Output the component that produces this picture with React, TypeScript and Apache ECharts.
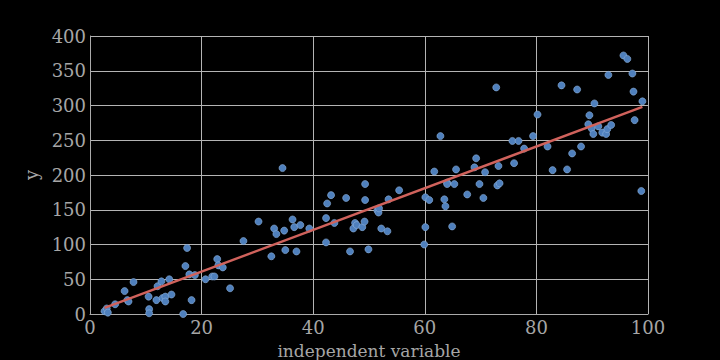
import React, { useEffect, useRef } from "react";
import * as echarts from "echarts";

const xValues = [
  2.6, 3.0, 3.2, 4.5, 6.2, 6.7, 6.9, 7.8, 10.5, 10.6, 10.6, 11.9, 12.1, 12.8, 13.0, 13.5, 13.5, 14.2, 14.6,
  16.7, 17.1, 17.4, 17.8, 18.2, 18.8, 20.7, 21.9, 22.3, 22.8, 23.0, 23.8, 25.1, 27.5, 30.2, 32.5, 33.0, 33.4,
  34.5, 34.8, 35.0, 36.3, 36.6, 37.0, 37.7, 39.3, 42.3, 42.3, 42.5, 43.2, 43.8, 45.9, 46.6, 47.2, 47.5, 47.8,
  48.8, 49.2, 49.3, 49.3, 49.9, 51.5, 51.7, 51.8, 52.2, 53.3, 53.5, 55.4, 59.9, 60.1, 60.1, 60.8, 61.7, 62.8,
  63.5, 63.7, 64.0, 64.0, 64.9, 65.3, 65.6, 67.6, 68.9, 69.2, 69.8, 70.5, 70.8, 72.8, 73.0, 73.4, 73.2, 75.7,
  76.0, 76.8, 77.8, 79.4, 80.2, 82.0, 82.9, 84.5, 85.5, 86.4, 87.3, 88.0, 89.3, 89.5, 89.9, 90.2, 90.4, 91.1,
  91.8, 92.5, 92.7, 92.9, 93.4, 95.6, 96.3, 97.2, 97.4, 97.6, 98.8, 99.0,
];
const yValues = [
  4, 8, 2, 14, 33, 20, 18, 46, 25, 7, 1, 20, 40, 47, 23, 25, 18, 50, 28,
  0, 69, 95, 57, 20, 56, 50, 54, 54, 79, 70, 67, 37, 105, 133, 83, 123, 115,
  210, 120, 92, 136, 125, 90, 128, 123, 138, 103, 159, 171, 131, 167, 90, 123, 131, 128,
  125, 133, 187, 164, 93, 149, 146, 152, 123, 119, 165, 178, 100, 125, 168, 164, 205, 256,
  165, 155, 189, 187, 126, 187, 208, 172, 211, 224, 187, 167, 204, 326, 185, 188, 213, 249,
  217, 249, 238, 256, 287, 241, 207, 329, 208, 231, 323, 241, 273, 286, 267, 259, 303, 270,
  261, 259, 266, 344, 272, 372, 367, 346, 320, 279, 177, 306,
];
const fitX = [2.6, 99.0];
const fitY = [8.8, 298];

export default function App() {
  const ref = useRef<HTMLDivElement>(null);
  useEffect(() => {
    if (!ref.current) return;
    const chart = echarts.init(ref.current, undefined, { renderer: "svg" });
    const font = "DejaVu Serif";
    const txt = "#a6a6a6";
    chart.setOption({
      animation: false,
      backgroundColor: "#000000",
      textStyle: { fontFamily: font },
      grid: { left: 90, right: 72, top: 36, bottom: 46, containLabel: false, outerBoundsMode: "none" },
      xAxis: {
        type: "value",
        min: 0,
        max: 100,
        interval: 20,
        name: "independent variable",
        nameLocation: "middle",
        nameGap: 28,
        nameTextStyle: { color: txt, fontFamily: font, fontSize: 17 },
        axisLine: { show: true, lineStyle: { color: "#aaaaaa", width: 1 } },
        axisTick: { show: false },
        axisLabel: { color: txt, fontFamily: font, fontSize: 18, margin: 4 },
        splitLine: { show: true, lineStyle: { color: "#b4b4b4", width: 1 } },
      },
      yAxis: {
        type: "value",
        min: 0,
        max: 400,
        interval: 50,
        name: "y",
        nameLocation: "middle",
        nameGap: 40,
        nameRotate: 90,
        nameTextStyle: { color: txt, fontFamily: font, fontSize: 18 },
        axisLine: { show: true, lineStyle: { color: "#aaaaaa", width: 1 } },
        axisTick: { show: false },
        axisLabel: { color: txt, fontFamily: font, fontSize: 18, margin: 4 },
        splitLine: { show: true, lineStyle: { color: "#b4b4b4", width: 1 } },
      },
      series: [
        {
          type: "scatter",
          data: xValues.map((x, i) => [x, yValues[i]]),
          symbolSize: 7,
          itemStyle: { color: "#4f80bd", borderColor: "#8fb1dc", borderWidth: 0.6, opacity: 1 },
          z: 2,
        },
        {
          type: "line",
          data: fitX.map((x, i) => [x, fitY[i]]),
          symbol: "none",
          lineStyle: { color: "#d0625c", width: 2.4 },
          z: 3,
        },
      ],
    });
    return () => chart.dispose();
  }, []);
  return <div ref={ref} style={{ width: 720, height: 360, position: "absolute", left: 0, top: 0 }} />;
}
